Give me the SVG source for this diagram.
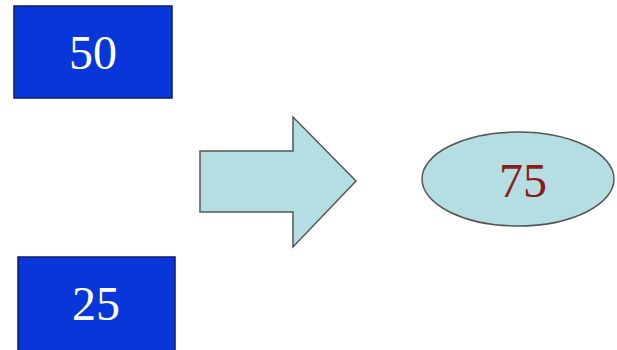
<svg xmlns="http://www.w3.org/2000/svg" width="617" height="350" viewBox="0 0 617 350">
<style>
.box{fill:#0836d8;stroke:#0a1a70;stroke-width:1.5}
.num{font-family:"Liberation Serif",serif;font-size:48px;text-anchor:middle}
.w{fill:#ffffff}
.r{fill:#8a1c1c}
.shape{fill:#b4dee2;stroke:#555555;stroke-width:1.5}
</style>
<rect width="617" height="350" fill="#ffffff"/>
<g id="box50">
<rect class="box" x="14" y="6" width="158" height="92"/>
<text class="num w" x="93" y="69">50</text>
</g>
<g id="box25">
<rect class="box" x="18" y="257" width="157" height="95"/>
<text class="num w" x="96" y="320">25</text>
</g>
<g id="connectors">
<polygon class="shape" points="200,151 293,151 293,117 356,181 293,247 293,212 200,212"/>
</g>
<g id="result">
<ellipse class="shape" cx="518" cy="179" rx="96" ry="47"/>
<text class="num r" x="523" y="197">75</text>
</g>
</svg>
